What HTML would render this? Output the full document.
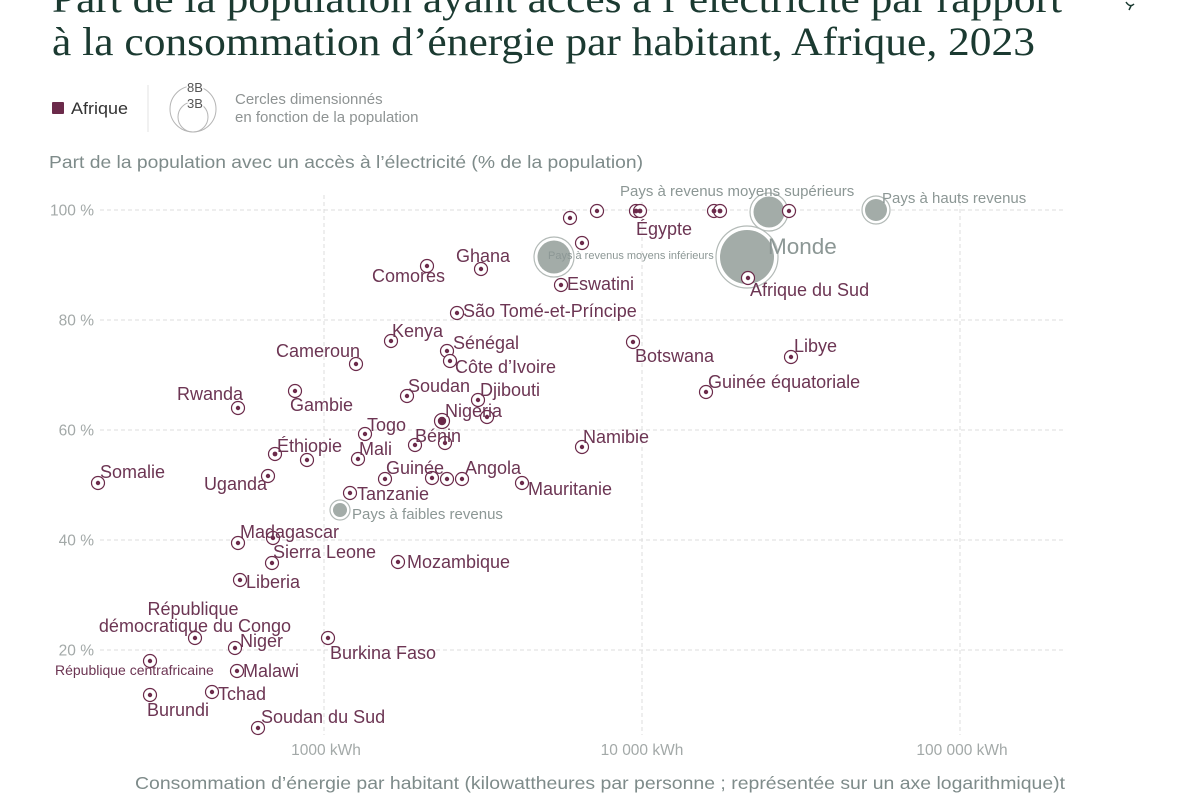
<!DOCTYPE html>
<html>
<head>
<meta charset="utf-8">
<style>
html,body{margin:0;padding:0;background:#fff;}
svg{display:block;}
text{font-family:"Liberation Sans",sans-serif;}
.t{font-family:"Liberation Serif",serif;fill:#1b3a31;font-size:40px;}
.lab{fill:#6c3553;font-size:18px;}
.glab{fill:#8c9795;font-size:15px;}
.tick{fill:#a3a9a8;font-size:15.5px;}
.grid{stroke:#dcdcdc;stroke-width:1;stroke-dasharray:4,3;}
.ax{fill:#7e8b8a;font-size:17.5px;}
</style>
</head>
<body>
<svg width="1200" height="800" viewBox="0 0 1200 800" xmlns="http://www.w3.org/2000/svg">
<rect width="1200" height="800" fill="#fff"/>

<!-- Title -->
<text class="t" x="52" y="12" textLength="1010" lengthAdjust="spacingAndGlyphs">Part de la population ayant accès à l’électricité par rapport</text>
<text class="t" x="52" y="55" textLength="983" lengthAdjust="spacingAndGlyphs">à la consommation d’énergie par habitant, Afrique, 2023</text>
<path d="M1126 2 q4 6 8 2 M1131 6 l-2 4" stroke="#1b3a31" stroke-width="1.5" fill="none"/>

<!-- Legend -->
<rect x="52" y="102" width="12" height="12" rx="1" fill="#6b2a4a"/>
<text x="71" y="114" font-size="17" fill="#333" textLength="57" lengthAdjust="spacingAndGlyphs">Afrique</text>
<line x1="148" y1="85" x2="148" y2="132" stroke="#e3e3e3" stroke-width="1"/>
<circle cx="193" cy="109" r="23" fill="none" stroke="#b5b5b5" stroke-width="1"/>
<circle cx="193" cy="117" r="15" fill="none" stroke="#b5b5b5" stroke-width="1"/>
<text x="195" y="92" font-size="13" fill="#555" text-anchor="middle" stroke="#fff" stroke-width="3" paint-order="stroke">8B</text>
<text x="195" y="108" font-size="13" fill="#555" text-anchor="middle" stroke="#fff" stroke-width="3" paint-order="stroke">3B</text>
<text x="235" y="104" font-size="15" fill="#8e9393">Cercles dimensionnés</text>
<text x="235" y="122" font-size="15" fill="#8e9393">en fonction de la population</text>

<!-- Y axis title -->
<text class="ax" x="49" y="168" textLength="594" lengthAdjust="spacingAndGlyphs">Part de la population avec un accès à l’électricité (% de la population)</text>

<!-- Grid -->
<g class="grid">
<line x1="100" y1="210" x2="1065" y2="210"/>
<line x1="100" y1="320" x2="1065" y2="320"/>
<line x1="100" y1="430" x2="1065" y2="430"/>
<line x1="100" y1="540" x2="1065" y2="540"/>
<line x1="100" y1="650" x2="1065" y2="650"/>
<line x1="324" y1="195" x2="324" y2="735"/>
<line x1="642" y1="195" x2="642" y2="735"/>
<line x1="960" y1="195" x2="960" y2="735"/>
</g>
<g class="tick" text-anchor="end">
<text x="94" y="215.5">100 %</text>
<text x="94" y="325.5">80 %</text>
<text x="94" y="435.5">60 %</text>
<text x="94" y="545.5">40 %</text>
<text x="94" y="655.5">20 %</text>
</g>
<g class="tick" text-anchor="middle">
<text x="326" y="755">1000 kWh</text>
<text x="642" y="755">10 000 kWh</text>
<text x="962" y="755">100 000 kWh</text>
</g>
<text class="ax" x="135" y="789" textLength="930" lengthAdjust="spacingAndGlyphs">Consommation d’énergie par habitant (kilowattheures par personne ; représentée sur un axe logarithmique)t</text>

<!-- Aggregate bubbles -->
<g>
<circle cx="340" cy="510" r="10" fill="#fff" stroke="#b3bab7" stroke-width="1.2"/>
<circle cx="340" cy="510" r="7" fill="#a3aca8"/>
<circle cx="554" cy="257" r="20" fill="#fff" stroke="#b3bab7" stroke-width="1.2"/>
<circle cx="554" cy="257" r="16.5" fill="#a3aca8"/>
<circle cx="769" cy="212" r="19" fill="#fff" stroke="#b3bab7" stroke-width="1.2"/>
<circle cx="769" cy="212" r="15.5" fill="#a3aca8"/>
<circle cx="876" cy="210" r="14" fill="#fff" stroke="#b3bab7" stroke-width="1.2"/>
<circle cx="876" cy="210" r="11" fill="#a3aca8"/>
<circle cx="747" cy="257" r="31" fill="#fff" stroke="#b3bab7" stroke-width="1.2"/>
<circle cx="747" cy="257" r="27" fill="#a3aca8"/>
</g>

<!-- Country markers -->
<g fill="#fff" stroke="#6b2a4a" stroke-width="1.2">
<circle cx="98" cy="483" r="6.5"/>
<circle cx="268" cy="476" r="6.5"/>
<circle cx="275" cy="454" r="6.5"/>
<circle cx="307" cy="460" r="6.5"/>
<circle cx="358" cy="459" r="6.5"/>
<circle cx="385" cy="479" r="6.5"/>
<circle cx="350" cy="493" r="6.5"/>
<circle cx="273" cy="538" r="6.5"/>
<circle cx="238" cy="543" r="6.5"/>
<circle cx="272" cy="563" r="6.5"/>
<circle cx="240" cy="580" r="6.5"/>
<circle cx="398" cy="562" r="6.5"/>
<circle cx="195" cy="638" r="6.5"/>
<circle cx="235" cy="648" r="6.5"/>
<circle cx="328" cy="638" r="6.5"/>
<circle cx="150" cy="661" r="6.5"/>
<circle cx="237" cy="671" r="6.5"/>
<circle cx="212" cy="692" r="6.5"/>
<circle cx="150" cy="695" r="6.5"/>
<circle cx="258" cy="728" r="6.5"/>
<circle cx="391" cy="341" r="6.5"/>
<circle cx="356" cy="364" r="6.5"/>
<circle cx="447" cy="351" r="6.5"/>
<circle cx="450" cy="361" r="6.5"/>
<circle cx="295" cy="391" r="6.5"/>
<circle cx="238" cy="408" r="6.5"/>
<circle cx="407" cy="396" r="6.5"/>
<circle cx="478" cy="400" r="6.5"/>
<circle cx="487" cy="417" r="6.5"/>
<circle cx="442" cy="421" r="7.5"/>
<circle cx="365" cy="434" r="6.5"/>
<circle cx="415" cy="445" r="6.5"/>
<circle cx="445" cy="443" r="6.5"/>
<circle cx="432" cy="478" r="6.5"/>
<circle cx="447" cy="479" r="6.5"/>
<circle cx="462" cy="479" r="6.5"/>
<circle cx="522" cy="483" r="6.5"/>
<circle cx="582" cy="447" r="6.5"/>
<circle cx="427" cy="266" r="6.5"/>
<circle cx="481" cy="269" r="6.5"/>
<circle cx="561" cy="285" r="6.5"/>
<circle cx="457" cy="313" r="6.5"/>
<circle cx="570" cy="218" r="6.5"/>
<circle cx="597" cy="211" r="6.5"/>
<circle cx="636" cy="211" r="6.5"/>
<circle cx="640" cy="211" r="6.5"/>
<circle cx="582" cy="243" r="6.5"/>
<circle cx="714" cy="211" r="6.5"/>
<circle cx="720" cy="211" r="6.5"/>
<circle cx="789" cy="211" r="6.5"/>
<circle cx="748" cy="278" r="6.5"/>
<circle cx="633" cy="342" r="6.5"/>
<circle cx="791" cy="357" r="6.5"/>
<circle cx="706" cy="392" r="6.5"/>
</g>
<g fill="#6b2a4a">
<circle cx="98" cy="483" r="2.2"/>
<circle cx="268" cy="476" r="2.2"/>
<circle cx="275" cy="454" r="2.4"/>
<circle cx="307" cy="460" r="2.2"/>
<circle cx="358" cy="459" r="2.2"/>
<circle cx="385" cy="479" r="2.2"/>
<circle cx="350" cy="493" r="2.2"/>
<circle cx="273" cy="538" r="2.2"/>
<circle cx="238" cy="543" r="2.2"/>
<circle cx="272" cy="563" r="2.2"/>
<circle cx="240" cy="580" r="2.2"/>
<circle cx="398" cy="562" r="2.2"/>
<circle cx="195" cy="638" r="2.2"/>
<circle cx="235" cy="648" r="2.2"/>
<circle cx="328" cy="638" r="2.2"/>
<circle cx="150" cy="661" r="2.2"/>
<circle cx="237" cy="671" r="2.2"/>
<circle cx="212" cy="692" r="2.2"/>
<circle cx="150" cy="695" r="2.2"/>
<circle cx="258" cy="728" r="2.2"/>
<circle cx="391" cy="341" r="2.2"/>
<circle cx="356" cy="364" r="2.2"/>
<circle cx="447" cy="351" r="2.2"/>
<circle cx="450" cy="361" r="2.2"/>
<circle cx="295" cy="391" r="2.2"/>
<circle cx="238" cy="408" r="2.2"/>
<circle cx="407" cy="396" r="2.2"/>
<circle cx="478" cy="400" r="2.2"/>
<circle cx="487" cy="417" r="2.2"/>
<circle cx="442" cy="421" r="4.2"/>
<circle cx="365" cy="434" r="2.2"/>
<circle cx="415" cy="445" r="2.2"/>
<circle cx="445" cy="443" r="2.2"/>
<circle cx="432" cy="478" r="2.2"/>
<circle cx="447" cy="479" r="2.2"/>
<circle cx="462" cy="479" r="2.2"/>
<circle cx="522" cy="483" r="2.2"/>
<circle cx="582" cy="447" r="2.2"/>
<circle cx="427" cy="266" r="2.2"/>
<circle cx="481" cy="269" r="2.2"/>
<circle cx="561" cy="285" r="2.2"/>
<circle cx="457" cy="313" r="2.2"/>
<circle cx="570" cy="218" r="2.2"/>
<circle cx="597" cy="211" r="2.2"/>
<circle cx="636" cy="211" r="2.4"/>
<circle cx="640" cy="211" r="2.4"/>
<circle cx="582" cy="243" r="2.2"/>
<circle cx="714" cy="211" r="2.4"/>
<circle cx="720" cy="211" r="2.4"/>
<circle cx="789" cy="211" r="2.2"/>
<circle cx="748" cy="278" r="2.2"/>
<circle cx="633" cy="342" r="2.2"/>
<circle cx="791" cy="357" r="2.2"/>
<circle cx="706" cy="392" r="2.2"/>
</g>

<!-- Aggregate labels -->
<text class="glab" x="352" y="519">Pays à faibles revenus</text>
<text class="glab" x="620" y="196">Pays à revenus moyens supérieurs</text>
<text class="glab" x="882" y="203">Pays à hauts revenus</text>
<text x="548" y="259" font-size="11" fill="#8c9795">Pays à revenus moyens inférieurs</text>
<text x="768" y="254" font-size="22.5" fill="#8c9795">Monde</text>

<!-- Country labels -->
<g class="lab">
<text x="100" y="478">Somalie</text>
<text x="267" y="490" text-anchor="end">Uganda</text>
<text x="277" y="452">Éthiopie</text>
<text x="359" y="455">Mali</text>
<text x="386" y="474">Guinée</text>
<text x="465" y="474">Angola</text>
<text x="357" y="500">Tanzanie</text>
<text x="240" y="538">Madagascar</text>
<text x="273" y="558">Sierra Leone</text>
<text x="246" y="588">Liberia</text>
<text x="407" y="568">Mozambique</text>
<text x="193" y="615" text-anchor="middle">République</text>
<text x="195" y="632" text-anchor="middle">démocratique du Congo</text>
<text x="240" y="647">Niger</text>
<text x="330" y="659">Burkina Faso</text>
<text x="55" y="675" font-size="14">République centrafricaine</text>
<text x="243" y="677">Malawi</text>
<text x="218" y="700">Tchad</text>
<text x="147" y="716">Burundi</text>
<text x="261" y="723">Soudan du Sud</text>
<text x="392" y="337">Kenya</text>
<text x="360" y="357" text-anchor="end">Cameroun</text>
<text x="453" y="349">Sénégal</text>
<text x="455" y="373">Côte d’Ivoire</text>
<text x="290" y="411">Gambie</text>
<text x="243" y="400" text-anchor="end">Rwanda</text>
<text x="408" y="392">Soudan</text>
<text x="480" y="396">Djibouti</text>
<text x="445" y="417">Nigeria</text>
<text x="367" y="431">Togo</text>
<text x="415" y="442">Bénin</text>
<text x="528" y="495">Mauritanie</text>
<text x="583" y="443">Namibie</text>
<text x="445" y="282" text-anchor="end">Comores</text>
<text x="456" y="262">Ghana</text>
<text x="567" y="290">Eswatini</text>
<text x="463" y="317">São Tomé-et-Príncipe</text>
<text x="636" y="235">Égypte</text>
<text x="750" y="296">Afrique du Sud</text>
<text x="635" y="362">Botswana</text>
<text x="794" y="352">Libye</text>
<text x="708" y="388">Guinée équatoriale</text>
</g>
</svg>
</body>
</html>
